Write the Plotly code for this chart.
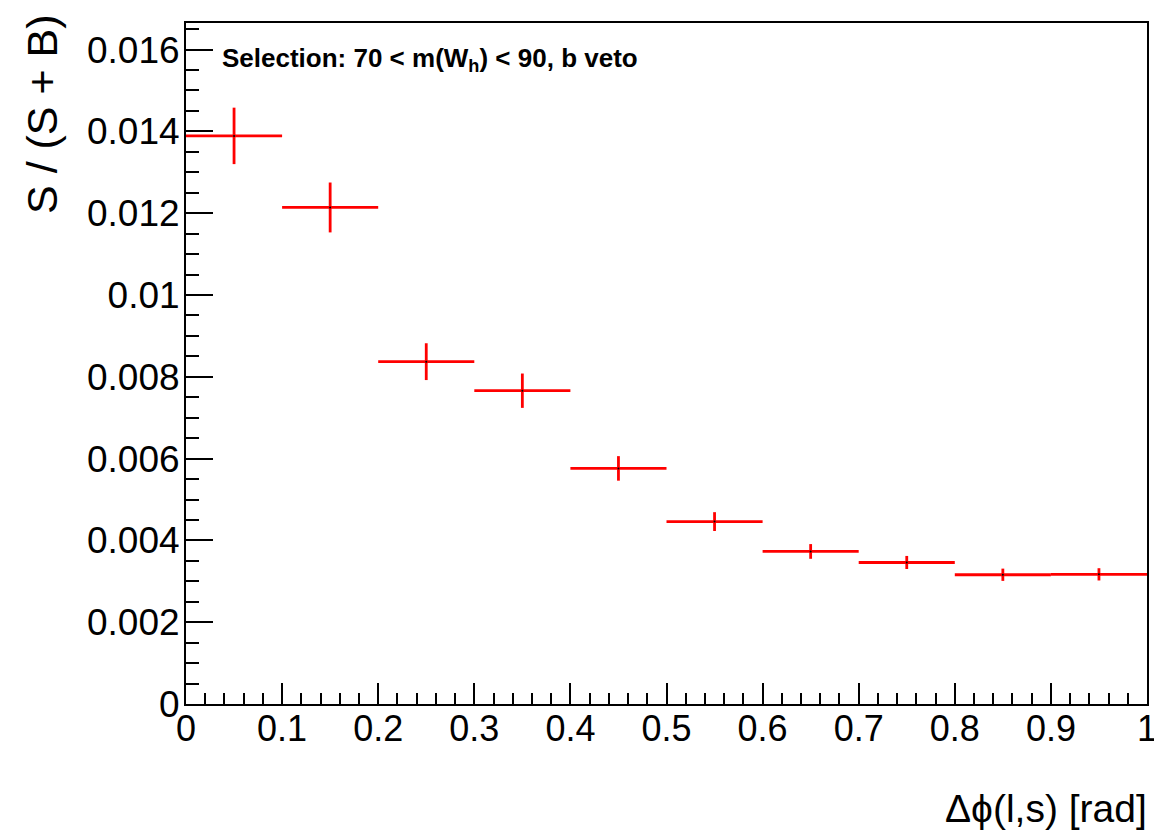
import plotly.graph_objects as go

# ---- data ----
bin_centers = [0.05, 0.15, 0.25, 0.35, 0.45, 0.55, 0.65, 0.75, 0.85, 0.95]
bin_half_widths = [0.05, 0.05, 0.05, 0.05, 0.05, 0.05, 0.05, 0.05, 0.05, 0.05]
ratio = [0.01389, 0.01214, 0.00837, 0.00766, 0.00576, 0.00446, 0.00373, 0.00346, 0.00316, 0.00317]
ratio_err = [0.00069, 0.00061, 0.00045, 0.00042, 0.00030, 0.00023, 0.00018, 0.00016, 0.00015, 0.00015]

x_tick_vals = [0, 0.1, 0.2, 0.3, 0.4, 0.5, 0.6, 0.7, 0.8, 0.9, 1.0]
x_tick_text = ["0", "0.1", "0.2", "0.3", "0.4", "0.5", "0.6", "0.7", "0.8", "0.9", "1"]
y_tick_vals = [0, 0.002, 0.004, 0.006, 0.008, 0.010, 0.012, 0.014, 0.016]
y_tick_text = ["0", "0.002", "0.004", "0.006", "0.008", "0.01", "0.012", "0.014", "0.016"]

x_title = "\u0394\u03d5(l,s) [rad]"
y_title = "S / (S + B)"
label_text = "<b>Selection: 70 &lt; m(W<sub>h</sub>) &lt; 90, b veto</b>"

W, H = 1154, 832
L, R, T, B = 186, 7, 23, 128
pw, ph = W - L - R, H - T - B

FONT = "Liberation Sans, Arial, Helvetica, sans-serif"

fig = go.Figure()
fig.add_trace(go.Scatter(
    x=bin_centers, y=ratio,
    mode="markers",
    marker=dict(size=2, color="black"),
    error_x=dict(type="data", array=bin_half_widths, visible=True,
                 color="#ff0000", thickness=2.8, width=0),
    error_y=dict(type="data", array=ratio_err, visible=True,
                 color="#ff0000", thickness=2.8, width=0),
    showlegend=False,
    hoverinfo="skip",
))

axis_common = dict(
    showgrid=False, zeroline=False, showline=True, linecolor="black",
    linewidth=2, mirror=True, ticks="inside", tickcolor="black",
    tickwidth=1.5, automargin=False, ticklabeloverflow="allow",
)

fig.update_xaxes(
    range=[0, 1], tickmode="array", tickvals=x_tick_vals, ticktext=x_tick_text,
    ticklen=21, tickfont=dict(family=FONT, size=36, color="black"),
    ticklabelstandoff=-8,
    minor=dict(ticks="inside", ticklen=11, tickmode="linear", tick0=0,
               dtick=0.02, tickcolor="black", tickwidth=1.5, showgrid=False),
    **axis_common,
)
fig.update_yaxes(
    range=[0, 0.01665], tickmode="array", tickvals=y_tick_vals, ticktext=y_tick_text,
    ticklen=27, tickfont=dict(family=FONT, size=37, color="black"),
    ticklabelstandoff=-3,
    minor=dict(ticks="inside", ticklen=13, tickmode="linear", tick0=0,
               dtick=0.0005, tickcolor="black", tickwidth=1.5, showgrid=False),
    **axis_common,
)

# axis titles (ROOT style: aligned to axis ends)
fig.add_annotation(
    text=y_title, textangle=-90, showarrow=False,
    xref="paper", yref="paper",
    x=(42 - L) / pw, y=(H - B - 12) / ph,
    xanchor="center", yanchor="top",
    font=dict(family=FONT, size=43, color="black"),
)
fig.add_annotation(
    text=x_title, showarrow=False,
    xref="paper", yref="paper",
    x=1.002, y=(H - B - 808) / ph,
    xanchor="right", yanchor="middle",
    font=dict(family=FONT, size=39, color="black"),
)
fig.add_annotation(
    text=label_text, showarrow=False,
    xref="paper", yref="paper",
    x=(220 - L) / pw, y=(H - B - 60) / ph,
    xanchor="left", yanchor="middle",
    font=dict(family="Liberation Sans Narrow, Liberation Sans, Arial", size=26, color="black"),
)

fig.update_layout(
    width=W, height=H,
    margin=dict(l=L, r=R, t=T, b=B),
    paper_bgcolor="white", plot_bgcolor="white",
)

fig.write_html(
    "out.html",
    config={"displayModeBar": False},
    post_script="document.body.style.margin='0';document.body.style.overflow='hidden';",
)
